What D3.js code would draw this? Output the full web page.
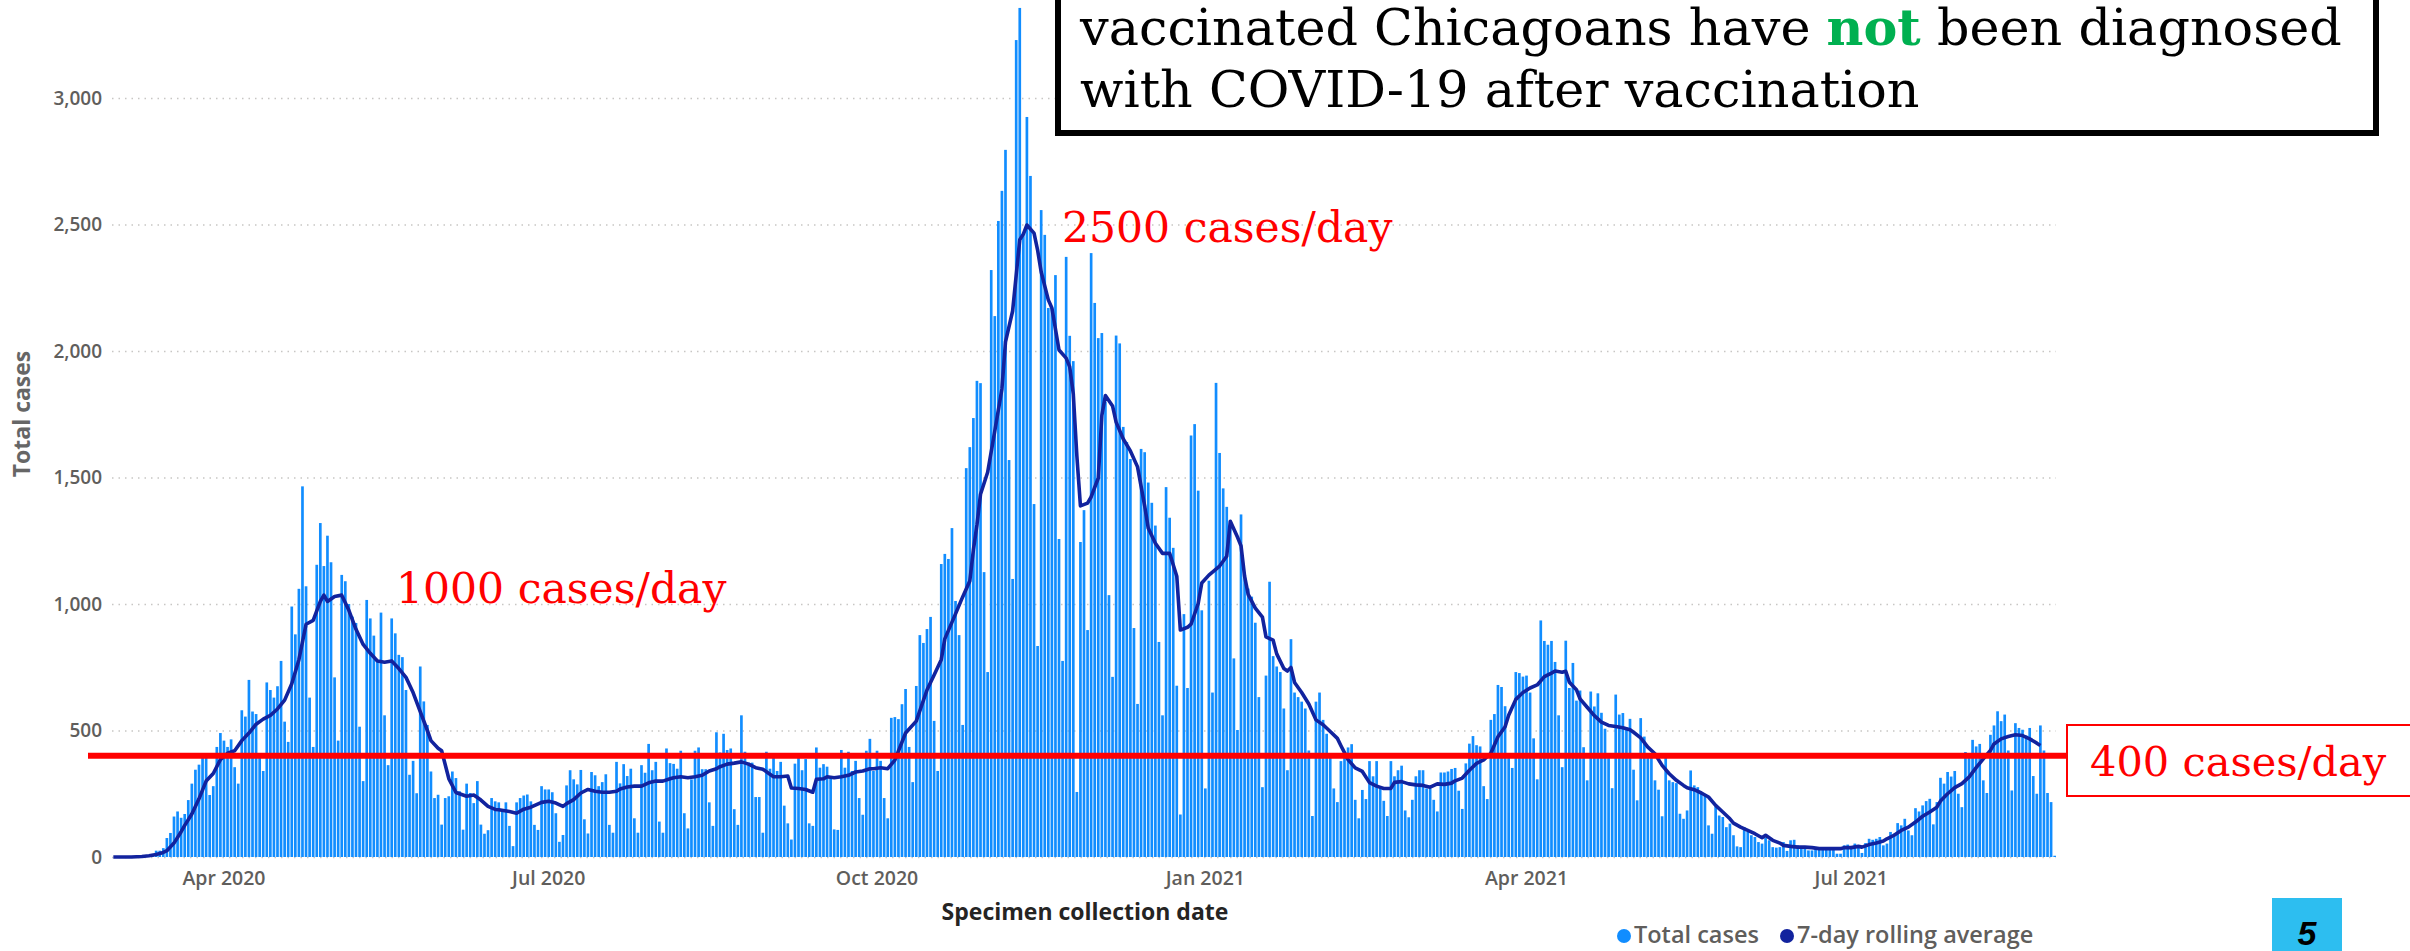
<!DOCTYPE html>
<html>
<head>
<meta charset="utf-8">
<script src="https://cdn.jsdelivr.net/npm/d3@7/dist/d3.min.js"></script>
<style>
	html, body { margin: 0; padding: 0; background: #fff; }
	svg { display: block; }
</style>
</head>
<body>
<svg id="chart" width="2410" height="951"></svg>
<script>
// daily cases by specimen collection date, one row per week (Sun..Sat)
var startDate = "2020-03-01";
var dailyCases = [
	0, 0, 1, 1, 2, 3, 3,
	2, 4, 6, 8, 12, 25, 25,
	35, 75, 95, 160, 180, 155, 170,
	225, 290, 345, 365, 410, 400, 245,
	280, 435, 490, 460, 435, 465, 355,
	290, 580, 555, 700, 575, 565, 395,
	340, 690, 660, 630, 675, 775, 535,
	455, 990, 880, 1060, 1465, 1070, 630,
	435, 1155, 1320, 1150, 1270, 1165, 710,
	460, 1115, 1090, 1000, 950, 925, 515,
	300, 1016, 943, 875, 775, 966, 560,
	363, 943, 884, 799, 790, 660, 325,
	380, 252, 753, 615, 522, 338, 233,
	246, 128, 233, 240, 338, 312, 260,
	108, 290, 253, 213, 300, 128, 92,
	106, 233, 220, 216, 187, 216, 123,
	43, 216, 233, 243, 247, 220, 127,
	107, 280, 267, 267, 256, 173, 60,
	87, 283, 343, 307, 287, 344, 149,
	93, 336, 323, 280, 296, 327, 127,
	96, 376, 291, 367, 320, 349, 153,
	96, 363, 333, 447, 343, 376, 140,
	96, 429, 371, 368, 349, 420, 173,
	113, 307, 420, 433, 347, 347, 216,
	123, 493, 413, 487, 423, 429, 189,
	127, 560, 416, 373, 373, 237, 237,
	96, 416, 349, 407, 340, 376, 203,
	133, 69, 369, 400, 343, 387, 133,
	123, 433, 353, 367, 357, 320, 109,
	107, 423, 353, 416, 340, 380, 233,
	167, 420, 467, 340, 420, 380, 233,
	153, 550, 553, 545, 604, 664, 435,
	296, 676, 877, 846, 901, 949, 538,
	340, 1158, 1198, 1178, 1300, 1012, 877,
	522, 1537, 1620, 1735, 1882, 1873, 1126,
	731, 2320, 2138, 2514, 2633, 2795, 1569,
	1099, 3229, 3356, 2459, 2925, 2692, 1395,
	834, 2557, 2459, 2170, 2170, 2300, 1257,
	775, 2372, 2060, 1960, 257, 1245, 1371,
	897, 2387, 2190, 2051, 2071, 1800, 1035,
	712, 2061, 2030, 1700, 1640, 1573, 905,
	605, 1613, 1600, 1480, 1400, 1310, 850,
	560, 1462, 1341, 1222, 677, 168, 960,
	668, 1666, 1711, 1448, 975, 271, 1092,
	650, 1874, 1597, 1457, 1384, 1330, 785,
	502, 1354, 1110, 1061, 1029, 926, 632,
	276, 717, 1088, 794, 753, 731, 587,
	343, 861, 650, 632, 614, 587, 421,
	162, 614, 650, 542, 487, 406, 271,
	217, 379, 397, 433, 446, 226, 153,
	265, 229, 379, 319, 379, 271, 222,
	162, 379, 319, 343, 361, 184, 157,
	226, 319, 343, 343, 271, 271, 226,
	180, 334, 334, 338, 348, 352, 262,
	190, 370, 448, 478, 442, 437, 280,
	229, 542, 565, 680, 672, 596, 406,
	352, 731, 727, 713, 717, 650, 469,
	307, 935, 854, 839, 854, 771, 560,
	355, 855, 668, 767, 618, 658, 434,
	303, 654, 595, 647, 570, 507, 405,
	272, 642, 563, 569, 513, 546, 345,
	224, 549, 476, 401, 395, 303, 266,
	161, 395, 303, 296, 292, 171, 151,
	184, 342, 283, 276, 257, 243, 125,
	92, 200, 164, 158, 118, 132, 86,
	42, 39, 118, 99, 86, 79, 59,
	53, 76, 66, 39, 37, 39, 59,
	24, 66, 68, 46, 42, 39, 26,
	26, 37, 29, 33, 39, 39, 29,
	13, 13, 46, 49, 42, 53, 46,
	16, 55, 72, 68, 72, 79, 46,
	53, 99, 92, 134, 125, 151, 105,
	86, 193, 180, 204, 221, 230, 129,
	217, 313, 290, 336, 318, 340, 250,
	197, 415, 397, 463, 437, 447, 303,
	253, 483, 520, 576, 537, 563, 421,
	263, 529, 510, 503, 480, 510, 320,
	250, 520, 421, 253, 217, 5
];

// 7-day rolling average (day offset from startDate -> value)
var avgDay = [
	0, 5, 8, 10, 12, 14, 15, 17, 19, 20, 22, 24, 26, 28, 30, 32, 34, 36, 38, 40,
	42, 44, 46, 48, 50, 52, 54, 56, 58, 59, 60, 62, 64, 66, 68, 70, 72, 74, 76, 78,
	80, 82, 84, 86, 88, 89, 91, 92, 94, 96, 99, 101, 103, 105, 107,
	108, 111, 113, 115, 117, 120, 122, 124, 126, 127, 129, 131, 133, 135, 137, 139, 141, 142, 144, 146,
	148, 150, 152, 154, 156, 157, 159, 161, 163, 165, 167, 169, 170, 172, 174, 176, 178, 180, 182, 184,
	185, 187, 189, 190, 192, 194, 196, 197, 199, 200, 202, 204, 206, 208, 210, 212, 213, 215, 217, 219,
	222, 225, 228, 230, 232, 233, 236, 238, 240, 241, 242, 243, 245, 247, 249, 250, 252, 253, 254, 255,
	256, 258, 259, 260, 262, 263, 265, 267, 268, 269, 270, 271, 273, 274, 276, 277, 278, 280, 281, 283,
	285, 287, 289, 290, 292, 294,
	296, 298, 299, 301, 302, 304, 305, 307, 310, 312, 313, 315, 316, 317, 318, 320, 322, 323, 325, 326,
	328, 329, 330, 331, 333, 335, 337, 339, 341, 343, 344, 346, 348, 350, 352, 354, 356, 358, 359, 361,
	363, 365, 367, 369, 371, 373, 375, 376, 378, 380, 382, 384, 386, 388, 390, 391, 393, 395, 397, 399,
	401, 403, 404,
	406, 407, 408, 410, 411, 413, 415, 417, 419, 421, 423, 425, 426, 428, 430, 432, 434, 436, 438, 440,
	441, 443, 445, 447, 449, 451, 453, 454, 456, 458, 460, 462, 463, 465, 467, 468, 470, 472, 474, 476,
	478, 480, 482, 484, 485, 487, 489,
	490, 492, 494, 496, 497, 499, 501, 503, 505, 507, 509, 511, 512, 514, 516, 518, 520, 522, 524, 526,
	527, 529, 531, 533, 535, 537, 539, 540
];
var avgValue = [
	0, 0, 2, 5, 10, 18, 25, 55, 100, 125, 170, 230, 300, 330, 385, 410, 420, 460, 490, 525,
	545, 560, 585, 620, 685, 780, 920, 935, 1010, 1035, 1010, 1030, 1035, 975, 900, 840, 805, 775, 770, 775,
	745, 710, 650, 575, 500, 460, 430, 420, 310, 255, 240, 245, 225, 200, 188,
	187, 180, 173, 189, 197, 216, 220, 213, 200, 211, 227, 253, 267, 260, 256, 256, 260, 269, 277, 280,
	280, 293, 300, 300, 309, 313, 317, 313, 317, 323, 340, 349, 357, 367, 371, 376, 367, 353, 347, 327,
	317, 317, 320, 273, 271, 267, 256, 307, 309, 317, 313, 317, 323, 336, 340, 349, 349, 353, 349, 383,
	490, 537, 660, 719, 780, 862, 961, 1028, 1091, 1213, 1312, 1434, 1521, 1684, 1850, 2036, 2158, 2300, 2440, 2462,
	2498, 2466, 2399, 2312, 2202, 2170, 2004, 1972, 1937, 1830, 1585, 1388, 1399, 1423, 1498, 1745, 1824, 1783, 1719, 1652,
	1605, 1542, 1388, 1300, 1240, 1200,
	1200, 1110, 897, 908, 920, 1002, 1083, 1114, 1150, 1189, 1327, 1265, 1230, 1110, 1038, 984, 948, 870, 857, 803,
	745, 735, 749, 690, 650, 605, 542, 523, 496, 469, 440, 385, 352, 338, 294, 280, 271, 271, 295, 298,
	289, 285, 283, 276, 289, 287, 292, 301, 312, 343, 370, 384, 410, 475, 515, 560, 623, 650, 668, 680,
	713, 727, 735,
	730, 734, 691, 661, 625, 592, 559, 533, 520, 516, 511, 503, 493, 471, 434, 408, 362, 329, 303, 283,
	274, 266, 253, 237, 204, 178, 151, 134, 118, 105, 92, 76, 86, 66, 55, 46, 42, 39, 39, 37,
	33, 33, 33, 33, 37, 37, 42,
	39, 49, 55, 63, 72, 86, 105, 118, 138, 161, 178, 197, 221, 250, 274, 290, 316, 353, 388, 421,
	447, 467, 476, 483, 480, 467, 450, 441
];

var yTicks = [0, 500, 1000, 1500, 2000, 2500, 3000];
var xTickDates = ["2020-04-01", "2020-07-01", "2020-10-01", "2021-01-01", "2021-04-01", "2021-07-01"];
var xTickLabels = ["Apr 2020", "Jul 2020", "Oct 2020", "Jan 2021", "Apr 2021", "Jul 2021"];

var refValue = 400;
var callouts = [
	{ text: "1000 cases/day", value: 1000 },
	{ text: "2500 cases/day", value: 2500 }
];
var legendItems = ["Total cases", "7-day rolling average"];

var barColor = "#118DFF",
	lineColor = "#12239E",
	axisGrey = "#605E5C";

var svg = d3.select("#chart");
var parse = d3.timeParse("%Y-%m-%d");
var t0 = parse(startDate);
var days = dailyCases.map(function(d, i) { return +d3.timeDay.offset(t0, i); });

var x = d3.scaleBand()
	.domain(days)
	.range([112, 2056])
	.paddingInner(0.25)
	.paddingOuter(0);

var y = d3.scaleLinear()
	.domain([0, 3000])
	.range([857, 98]);

var mid = function(t) { return x(t) + x.bandwidth() / 2; };
var uiFont = "'Segoe UI', 'Open Sans', sans-serif";

// gridlines + y labels
var yAxis = svg.append("g")
	.attr("transform", "translate(112,0)")
	.call(d3.axisLeft(y)
		.tickValues(yTicks)
		.tickSize(-(2056 - 112))
		.tickPadding(10)
		.tickFormat(d3.format(",")));
yAxis.select(".domain").remove();
yAxis.selectAll(".tick line")
	.attr("stroke", "#C8C6C4")
	.attr("stroke-width", 1.5)
	.attr("stroke-dasharray", "1.5,5");
yAxis.selectAll(".tick text")
	.attr("fill", axisGrey)
	.style("font-family", uiFont)
	.style("font-weight", 600)
	.style("font-size", "19px");

// x labels
var xAxis = svg.append("g")
	.attr("transform", "translate(0,857)")
	.call(d3.axisBottom(x)
		.tickValues(xTickDates.map(function(d) { return +parse(d); }))
		.tickSize(0)
		.tickPadding(14)
		.tickFormat(function(d, i) { return xTickLabels[i]; }));
xAxis.select(".domain").remove();
xAxis.selectAll(".tick text")
	.attr("fill", axisGrey)
	.style("font-family", uiFont)
	.style("font-weight", 600)
	.style("font-size", "19.5px");

// bars
svg.append("g")
	.selectAll("rect")
	.data(dailyCases)
	.enter().append("rect")
	.attr("x", function(d, i) { return x(days[i]); })
	.attr("width", x.bandwidth())
	.attr("y", function(d) { return y(d); })
	.attr("height", function(d) { return y(0) - y(d); })
	.attr("fill", barColor);

// rolling average
var avgPoints = avgDay.map(function(d, i) { return [days[d], avgValue[i]]; });
svg.append("path")
	.datum(avgPoints)
	.attr("fill", "none")
	.attr("stroke", lineColor)
	.attr("stroke-width", 3.6)
	.attr("stroke-linejoin", "round")
	.attr("d", d3.line()
		.x(function(d) { return mid(d[0]); })
		.y(function(d) { return y(d[1]); }));

// axis titles
svg.append("text")
	.attr("transform", "translate(30,414) rotate(-90)")
	.attr("text-anchor", "middle")
	.attr("fill", "#666")
	.style("font-family", uiFont)
	.style("font-weight", 700)
	.style("font-size", "23px")
	.text("Total cases");

svg.append("text")
	.attr("x", 1085)
	.attr("y", 920)
	.attr("text-anchor", "middle")
	.attr("fill", "#252423")
	.style("font-family", uiFont)
	.style("font-weight", 700)
	.style("font-size", "23px")
	.text("Specimen collection date");

// legend
var legend = svg.append("g")
	.style("font-family", uiFont)
	.style("font-weight", 600)
	.style("font-size", "23.5px");
legend.append("circle").attr("cx", 1624).attr("cy", 936).attr("r", 7).attr("fill", barColor);
legend.append("text").attr("x", 1634).attr("y", 943).attr("fill", axisGrey).text(legendItems[0]);
legend.append("circle").attr("cx", 1787).attr("cy", 936).attr("r", 7).attr("fill", lineColor);
legend.append("text").attr("x", 1797).attr("y", 943).attr("fill", axisGrey).text(legendItems[1]);

// 400 cases/day reference line and its label box
var serif = "'DejaVu Serif', 'Liberation Serif', serif";
svg.append("line")
	.attr("x1", 88).attr("x2", 2068)
	.attr("y1", y(refValue)).attr("y2", y(refValue))
	.attr("stroke", "#FF0000")
	.attr("stroke-width", 6);
svg.append("rect")
	.attr("x", 2067).attr("y", 725)
	.attr("width", 360).attr("height", 71)
	.attr("fill", "#fff")
	.attr("stroke", "#FF0000")
	.attr("stroke-width", 2);
svg.append("text")
	.attr("x", 2090).attr("y", 776)
	.attr("fill", "#FF0000")
	.style("font-family", serif)
	.style("font-size", "41.5px")
	.text(refValue + " cases/day");

// peak callouts
svg.append("text")
	.attr("x", 396).attr("y", y(callouts[0].value) - 1)
	.attr("fill", "#FF0000")
	.style("font-family", serif)
	.style("font-size", "42.5px")
	.text(callouts[0].text);
svg.append("text")
	.attr("x", 1062).attr("y", y(callouts[1].value) + 17)
	.attr("fill", "#FF0000")
	.style("font-family", serif)
	.style("font-size", "42.5px")
	.text(callouts[1].text);

// message box at top
svg.append("rect")
	.attr("x", 1058).attr("y", -30)
	.attr("width", 1318).attr("height", 163)
	.attr("fill", "#fff")
	.attr("stroke", "#000")
	.attr("stroke-width", 6);
var msg = svg.append("text")
	.attr("x", 1080).attr("y", 45)
	.attr("fill", "#000")
	.style("font-family", serif)
	.style("font-size", "48px");
msg.append("tspan").text("vaccinated Chicagoans have ");
msg.append("tspan").attr("fill", "#00B050").style("font-weight", 700).text("not");
msg.append("tspan").text(" been diagnosed");
var msg2 = svg.append("text")
	.attr("x", 1080).attr("y", 107)
	.attr("fill", "#000")
	.style("font-family", serif)
	.style("font-size", "48px")
	.text("with COVID-19 after vaccination");
// fit first line to the width seen in the slide
var w = msg.node().getComputedTextLength();
var fs = 48 * 1262 / w;
msg.style("font-size", fs + "px");
msg2.style("font-size", fs + "px");

// slide number
svg.append("rect")
	.attr("x", 2272).attr("y", 898)
	.attr("width", 70).attr("height", 60)
	.attr("fill", "#2DBEF0");
svg.append("text")
	.attr("x", 2307).attr("y", 945)
	.attr("text-anchor", "middle")
	.attr("fill", "#000")
	.style("font-family", "'Liberation Sans', Arial, sans-serif")
	.style("font-weight", 700)
	.style("font-style", "italic")
	.style("font-size", "34px")
	.text("5");
</script>
</body>
</html>
